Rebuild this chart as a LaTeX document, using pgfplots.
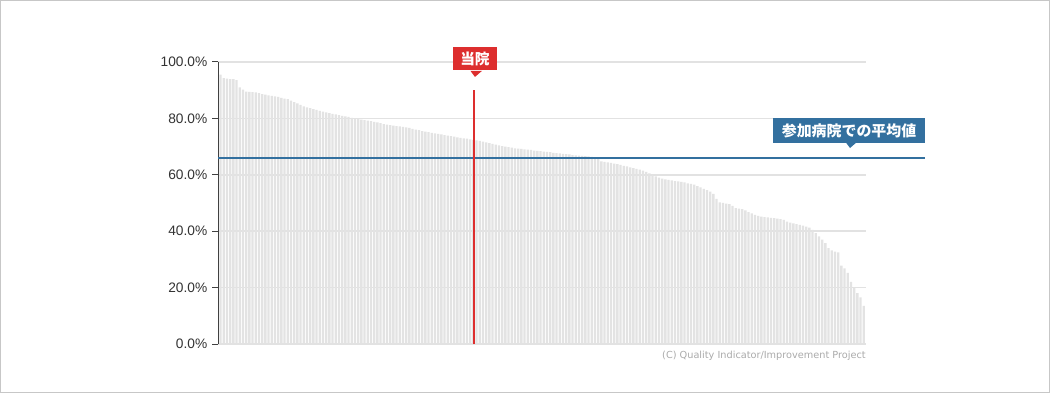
\documentclass[border=0pt]{standalone}
\usepackage{pgfplots}
\usepackage{pgfplotstable}
\pgfplotsset{compat=1.18}
\usepackage{fontspec}
\setmainfont{Liberation Sans}
\newfontfamily\cjk{Noto Sans CJK JP}
\newfontfamily\dejavu{DejaVu Sans}
\definecolor{barc}{HTML}{E3E3E3}
\definecolor{gridc}{HTML}{E2E2E2}
\definecolor{qired}{HTML}{DD2E2E}
\definecolor{qiblue}{HTML}{33709F}
\definecolor{ticktext}{HTML}{333333}
\definecolor{copyc}{HTML}{AAAAAA}

\pgfplotstableread{
v
95.5
94.3
94.1
93.9
93.9
93.6
91.0
90.2
89.5
89.4
89.3
89.2
89.0
88.6
88.4
88.2
88.0
87.8
87.6
87.3
87.0
86.8
86.3
85.8
85.3
84.8
84.3
83.9
83.6
83.3
83.0
82.7
82.4
82.1
81.9
81.6
81.4
81.2
80.9
80.7
80.5
80.2
80.0
79.8
79.6
79.4
79.2
79.0
78.8
78.6
78.3
78.0
77.8
77.6
77.4
77.3
77.2
77.0
76.8
76.6
76.3
76.0
75.8
75.5
75.3
75.1
74.9
74.7
74.5
74.3
74.1
73.9
73.7
73.5
73.3
73.1
72.9
72.8
72.6
72.4
72.2
72.0
71.8
71.5
71.2
71.0
70.7
70.4
70.2
70.0
69.8
69.6
69.4
69.3
69.2
69.0
68.9
68.8
68.6
68.5
68.4
68.2
68.1
68.0
67.8
67.7
67.6
67.4
67.3
67.2
67.0
66.9
66.8
66.7
66.6
66.5
66.4
66.3
66.2
64.8
64.6
64.4
64.2
64.0
63.8
63.5
63.2
63.0
62.6
62.4
62.1
61.8
61.5
61.0
60.5
60.0
59.4
59.0
58.6
58.4
58.2
58.0
57.8
57.7
57.5
57.3
57.0
56.8
56.5
56.0
55.5
55.0
54.6
54.0
53.2
51.5
50.2
50.0
49.8
49.6
49.0
48.2
48.0
47.8
47.4
46.8
46.3
45.8
45.4
45.2
45.0
44.9
44.7
44.6
44.5
44.3
44.0
43.4
43.0
42.8
42.5
42.2
42.0
41.6
41.3
40.5
39.3
38.2
37.0
35.8
34.0
33.2
32.8
32.5
27.8
26.8
25.2
22.0
20.0
18.0
16.5
13.5
}\qidata

\begin{document}
\begin{tikzpicture}
\useasboundingbox (0,0) rectangle (787.5pt,294.75pt);
\draw[draw=black!22, line width=0.75pt] (0.375pt,0.375pt) rectangle (787.125pt,294.375pt);
\begin{axis}[
  at={(163.5pt,36.75pt)}, anchor=south west,
  scale only axis, width=486pt, height=211.5pt,
  xmin=-0.8, xmax=201.7, ymin=0, ymax=100,
  clip=false,
  axis line style={draw=none},
  xtick=\empty,
  ytick={0,20,40,60,80,100},
  yticklabels={0.0\%,20.0\%,40.0\%,60.0\%,80.0\%,100.0\%},
  /pgf/number format/assume math mode=true,
  yticklabel style={font=\fontsize{10.3pt}{12pt}\selectfont, text=ticktext},
  ymajorgrids, grid style={draw=gridc, line width=1.1pt},
  tick align=outside, major tick length=4.5pt, ytick pos=left,
  ytick style={draw=black!75, line width=0.75pt},
  ybar, bar width=0.72,
]
\addplot[fill=barc, draw=none] table[x expr=\coordindex, y=v] {\qidata};
% axes lines
\draw[draw=gridc, line width=1.1pt] (axis cs:-0.8,0) -- (axis cs:201.7,0);
\draw[draw=black!75, line width=0.75pt] (axis cs:-0.8,0) -- (axis cs:-0.8,100);
% average line
\addplot[sharp plot, qiblue, line width=1.6pt, forget plot] coordinates {(-0.8,66) (220.1,66)};
% this hospital line
\addplot[sharp plot, qired, line width=1.5pt, forget plot] coordinates {(79.2,0) (79.2,90)};
% red label
\fill[qired] (axis cs:79.5,94.7) -- ++(-3.4pt,4.6pt) -- ++(6.8pt,0) -- cycle;
\node[fill=qired, text=white, minimum width=33pt, minimum height=17.25pt, inner sep=0pt,
  font=\cjk\bfseries\fontsize{11pt}{12pt}\selectfont] at (axis cs:79.5,101.2) {当院};
% blue label
\fill[qiblue] (axis cs:196.7,69.5) -- ++(-3.4pt,4.6pt) -- ++(6.8pt,0) -- cycle;
\node[fill=qiblue, text=white, minimum width=114pt, minimum height=18.75pt, inner sep=0pt,
  font=\cjk\bfseries\fontsize{11.2pt}{12pt}\selectfont] at (axis cs:196.4,75.7) {参加病院での平均値};
\end{axis}
\node[anchor=east, inner sep=0pt, text=copyc, font=\dejavu\fontsize{7.3pt}{8pt}\selectfont] at (649.5pt,27.75pt) {(C) Quality Indicator/Improvement Project};
\end{tikzpicture}
\end{document}
